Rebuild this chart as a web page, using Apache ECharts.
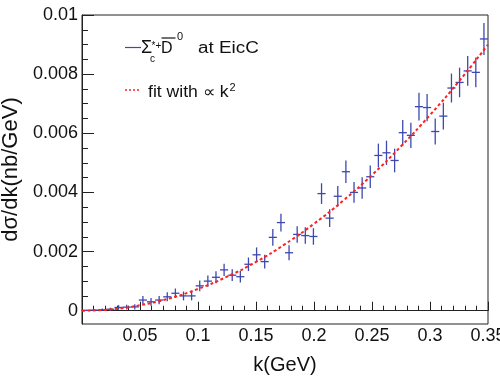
<!DOCTYPE html>
<html>
<head>
<meta charset="utf-8">
<script src="https://cdn.jsdelivr.net/npm/echarts@6/dist/echarts.min.js"></script>
<style>
html,body{margin:0;padding:0;background:#fff;}
#chart{width:500px;height:376px;}
</style>
</head>
<body>
<div id="chart"></div>
<script>
// ---- data ----
const kCenters = [0.0035,0.0105,0.0175,0.0245,0.0315,0.0385,0.0455,0.0525,0.0595,0.0665,
  0.0735,0.0805,0.0875,0.0945,0.1015,0.1085,0.1155,0.1225,0.1295,0.1365,
  0.1435,0.1505,0.1575,0.1645,0.1715,0.1785,0.1855,0.1925,0.1995,0.2065,
  0.2135,0.2205,0.2275,0.2345,0.2415,0.2485,0.2555,0.2625,0.2695,0.2765,
  0.2835,0.2905,0.2975,0.3045,0.3115,0.3185,0.3255,0.3325,0.3395,0.3465];
const binHalfWidth = 0.0035;
const dsigma = [0.00001,0.00002,0.00003,0.00005,0.00011,0.00012,0.00013,0.00036,0.00030,0.00036,
  0.00047,0.00059,0.00050,0.00050,0.00084,0.00100,0.00113,0.00138,0.00120,0.00115,
  0.00157,0.00189,0.00166,0.00248,0.00298,0.00196,0.00258,0.00254,0.00251,0.00396,
  0.00313,0.00387,0.00470,0.00400,0.00415,0.00453,0.00525,0.00534,0.00508,0.00602,
  0.00593,0.00690,0.00687,0.00606,0.00658,0.00753,0.00772,0.00811,0.00806,0.00919];
const dsigmaErr = [0.00002,0.00003,0.00004,0.00005,0.00008,0.00008,0.00009,0.00014,0.00013,0.00014,
  0.00015,0.00016,0.00015,0.00015,0.00018,0.00019,0.00020,0.00021,0.00020,0.00020,
  0.00023,0.00025,0.00023,0.00028,0.00030,0.00025,0.00028,0.00028,0.00028,0.00035,
  0.00030,0.00035,0.00038,0.00035,0.00036,0.00038,0.00040,0.00041,0.00040,0.00043,
  0.00043,0.00047,0.00046,0.00044,0.00045,0.00049,0.00050,0.00050,0.00050,0.00054];
const fitK = [0,0.025,0.05,0.075,0.1,0.125,0.15,0.175,0.2,0.225,0.25,0.275,0.3,0.325,0.35];
const fitY = [0,0.000046,0.000184,0.000413,0.000735,0.00115,0.00165,0.00225,0.00294,0.00372,0.00459,0.00556,0.00662,0.00776,0.0090];
const xLabelValues = [0.05,0.1,0.15,0.2,0.25,0.3,0.35];
const yLabelValues = [0,0.002,0.004,0.006,0.008,0.01];
const yMinorValues = [0,0.0005,0.001,0.0015,0.002,0.0025,0.003,0.0035,0.004,0.0045,0.005,0.0055,0.006,0.0065,0.007,0.0075,0.008,0.0085,0.009,0.0095,0.01];

// ---- chart ----
const FONT = 'Liberation Sans, Arial, Helvetica, sans-serif';
const BLUE = '#3d48b0';
const RED = '#ff2020';
const INK = '#111';

const pts = kCenters.map((k, i) => [k, dsigma[i], dsigmaErr[i]]);
const fitData = fitK.map((k, i) => [k, fitY[i]]);

const chart = echarts.init(document.getElementById('chart'), null, {renderer: 'canvas'});
chart.setOption({
  animation: false,
  backgroundColor: '#fff',
  grid: {left: 82, right: 12, top: 15, bottom: 52, show: true, borderColor: '#222', borderWidth: 1,
         outerBoundsMode: 'none', containLabel: false},
  xAxis: [{
    type: 'value', min: 0, max: 0.35, interval: 0.05,
    name: 'k(GeV)', nameLocation: 'middle', nameGap: 31,
    nameTextStyle: {fontFamily: FONT, fontSize: 20, color: INK},
    axisLine: {show: true, lineStyle: {color: '#222', width: 1}},
    axisTick: {show: true, inside: true, length: 9, lineStyle: {color: '#222'}},
    minorTick: {show: true, splitNumber: 5, length: 5, lineStyle: {color: '#222'}},
    axisLabel: {customValues: xLabelValues, margin: 3, fontFamily: FONT, fontSize: 18, color: INK,
                formatter: v => String(+v.toFixed(4))},
    splitLine: {show: false}, minorSplitLine: {show: false}
  }],
  yAxis: [{
    type: 'value', min: -0.00045, max: 0.01,
    name: 'd\u03c3/dk(nb/GeV)', nameLocation: 'middle', nameGap: 57, nameRotate: 90,
    nameTextStyle: {fontFamily: FONT, fontSize: 22, color: INK},
    axisLine: {show: true, lineStyle: {color: '#222', width: 1}},
    axisTick: {show: true, inside: true, length: 12, customValues: yLabelValues, lineStyle: {color: '#222'}},
    axisLabel: {customValues: yLabelValues, margin: 4, fontFamily: FONT, fontSize: 18, color: INK,
                formatter: v => String(+v.toFixed(4))},
    splitLine: {show: false}
  }, {
    type: 'value', min: -0.00045, max: 0.01, position: 'left', offset: 0,
    axisLine: {show: false},
    axisTick: {show: true, inside: true, length: 6, customValues: yMinorValues, lineStyle: {color: '#222'}},
    axisLabel: {show: false},
    splitLine: {show: false}
  }],
  series: [{
    type: 'custom',
    xAxisIndex: 0, yAxisIndex: 0,
    data: pts,
    encode: {x: 0, y: 1},
    z: 2,
    renderItem: function (params, api) {
      const k = api.value(0), v = api.value(1), e = api.value(2);
      const pL = api.coord([k - binHalfWidth, v]);
      const pR = api.coord([k + binHalfWidth, v]);
      const pT = api.coord([k, v + e]);
      const pB = api.coord([k, v - e]);
      const st = {stroke: BLUE, lineWidth: 1.3};
      return {type: 'group', children: [
        {type: 'line', shape: {x1: pL[0], y1: pL[1], x2: pR[0], y2: pR[1]}, style: st},
        {type: 'line', shape: {x1: pB[0], y1: pB[1], x2: pT[0], y2: pT[1]}, style: st}
      ]};
    }
  }, {
    type: 'line',
    xAxisIndex: 0, yAxisIndex: 0,
    data: fitData,
    smooth: true,
    showSymbol: false,
    z: 3,
    lineStyle: {color: RED, width: 2, type: [3, 2.5]}
  }],
  graphic: [
    {type: 'line', shape: {x1: 125, y1: 47.5, x2: 141, y2: 47.5}, style: {stroke: BLUE, lineWidth: 1.2}},
    {type: 'text', x: 141, y: 48.3, scaleX: 1.0, style: {text: '\u03a3', font: '18px ' + FONT, fill: INK, verticalAlign: 'middle'}},
    {type: 'text', x: 150, y: 59, style: {text: 'c', font: '10px ' + FONT, fill: INK, verticalAlign: 'middle'}},
    {type: 'text', x: 151.5, y: 46.5, style: {text: '*+', font: '10px ' + FONT, fill: INK, verticalAlign: 'middle'}},
    {type: 'text', x: 161, y: 48.8, scaleX: 1.0, style: {text: 'D', font: '16px ' + FONT, fill: INK, verticalAlign: 'middle'}},
    {type: 'line', shape: {x1: 161.5, y1: 38, x2: 175.5, y2: 38}, style: {stroke: INK, lineWidth: 1.2}},
    {type: 'text', x: 177, y: 36.5, style: {text: '0', font: '11px ' + FONT, fill: INK, verticalAlign: 'middle'}},
    {type: 'text', x: 198, y: 48.8, scaleX: 1.18, style: {text: 'at EicC', font: '16px ' + FONT, fill: INK, verticalAlign: 'middle'}},
    {type: 'line', shape: {x1: 125, y1: 90, x2: 141, y2: 90}, style: {stroke: RED, lineWidth: 1.5, lineDash: [2, 2]}},
    {type: 'text', x: 148, y: 92.8, scaleX: 1.1, style: {text: 'fit with \u221d k', font: '16px ' + FONT, fill: INK, verticalAlign: 'middle'}},
    {type: 'text', x: 229.5, y: 88, style: {text: '2', font: '11px ' + FONT, fill: INK, verticalAlign: 'middle'}}
  ]
});
</script>
</body>
</html>
